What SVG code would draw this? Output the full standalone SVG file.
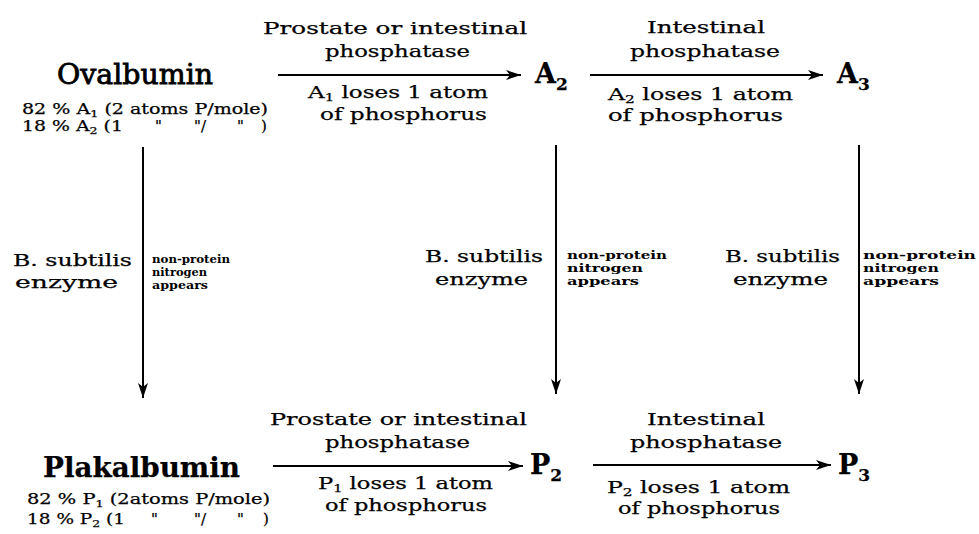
<svg xmlns="http://www.w3.org/2000/svg" width="979" height="534" viewBox="0 0 979 534">
<defs>
<marker id="ah" markerUnits="userSpaceOnUse" markerWidth="16" markerHeight="12" refX="15" refY="6" orient="auto">
<path d="M0,1 L15,6 L0,11 L4,6 z" fill="#000"/>
</marker>
<style>
text{font-family:"DejaVu Serif","Liberation Serif",serif;fill:#000;stroke:#000;stroke-width:0.25}
.big{font-size:27px;stroke-width:0.8}
.bigb{font-size:28px;font-weight:bold}
.node{font-size:27px;font-weight:bold}
.lab{font-size:17px}
.comp{font-size:15px}
.sm{font-size:11px;font-weight:bold;stroke-width:0}
.conn{stroke:#000;stroke-width:2;fill:none;marker-end:url(#ah)}
</style>
</defs>
<rect width="979" height="534" fill="#fff"/>
<g id="connectors">
<line class="conn" x1="278" y1="75" x2="521" y2="75"/>
<line class="conn" x1="590" y1="75" x2="823" y2="75"/>
<line class="conn" x1="273" y1="466" x2="523" y2="466"/>
<line class="conn" x1="593" y1="465" x2="831" y2="465"/>
<line class="conn" x1="143" y1="147" x2="143" y2="398"/>
<line class="conn" x1="556" y1="145" x2="556" y2="394"/>
<line class="conn" x1="859" y1="145" x2="859" y2="394"/>
</g>
<g id="ovalbumin">
<text class="big" x="57" y="84" textLength="156" lengthAdjust="spacingAndGlyphs">Ovalbumin</text>
<text class="comp" x="22" y="114" textLength="246" lengthAdjust="spacingAndGlyphs">82 % A<tspan font-size="10" dy="3">1</tspan><tspan dy="-3"> (2 atoms P/mole)</tspan></text>
<text class="comp" x="22" y="131" textLength="101" lengthAdjust="spacingAndGlyphs">18 % A<tspan font-size="10" dy="3">2</tspan><tspan dy="-3"> (1</tspan></text>
<text class="comp" x="155" y="131">"</text>
<text class="comp" x="194" y="131">"/</text>
<text class="comp" x="237" y="131">"</text>
<text class="comp" x="261" y="131">)</text>
</g>
<g id="A2">
<text class="node" x="535" y="83">A<tspan font-size="17" dy="7">2</tspan></text>
</g>
<g id="A3">
<text class="node" x="837" y="83">A<tspan font-size="17" dy="7">3</tspan></text>
</g>
<g id="plakalbumin">
<text class="bigb" x="43" y="477" textLength="197" lengthAdjust="spacingAndGlyphs">Plakalbumin</text>
<text class="comp" x="27" y="504" textLength="243" lengthAdjust="spacingAndGlyphs">82 % P<tspan font-size="10" dy="3">1</tspan><tspan dy="-3"> (2atoms P/mole)</tspan></text>
<text class="comp" x="27" y="524" textLength="98" lengthAdjust="spacingAndGlyphs">18 % P<tspan font-size="10" dy="3">2</tspan><tspan dy="-3"> (1</tspan></text>
<text class="comp" x="151" y="524">"</text>
<text class="comp" x="194" y="524">"/</text>
<text class="comp" x="237" y="524">"</text>
<text class="comp" x="263" y="524">)</text>
</g>
<g id="P2">
<text class="node" x="530" y="474">P<tspan font-size="17" dy="7">2</tspan></text>
</g>
<g id="P3">
<text class="node" x="838" y="474">P<tspan font-size="17" dy="7">3</tspan></text>
</g>
<g id="labels-top-1">
<text class="lab" x="263" y="34" textLength="264" lengthAdjust="spacingAndGlyphs">Prostate or intestinal</text>
<text class="lab" x="325" y="57" textLength="145" lengthAdjust="spacingAndGlyphs">phosphatase</text>
<text class="lab" x="308" y="98" textLength="180" lengthAdjust="spacingAndGlyphs">A<tspan font-size="11" dy="3">1</tspan><tspan dy="-3"> loses 1 atom</tspan></text>
<text class="lab" x="320" y="120" textLength="167" lengthAdjust="spacingAndGlyphs">of phosphorus</text>
</g>
<g id="labels-top-2">
<text class="lab" x="647" y="33" textLength="118" lengthAdjust="spacingAndGlyphs">Intestinal</text>
<text class="lab" x="630" y="57" textLength="150" lengthAdjust="spacingAndGlyphs">phosphatase</text>
<text class="lab" x="608" y="100" textLength="185" lengthAdjust="spacingAndGlyphs">A<tspan font-size="11" dy="3">2</tspan><tspan dy="-3"> loses 1 atom</tspan></text>
<text class="lab" x="608" y="121" textLength="175" lengthAdjust="spacingAndGlyphs">of phosphorus</text>
</g>
<g id="labels-bottom-1">
<text class="lab" x="270" y="425" textLength="257" lengthAdjust="spacingAndGlyphs">Prostate or intestinal</text>
<text class="lab" x="325" y="448" textLength="145" lengthAdjust="spacingAndGlyphs">phosphatase</text>
<text class="lab" x="318" y="489" textLength="175" lengthAdjust="spacingAndGlyphs">P<tspan font-size="11" dy="3">1</tspan><tspan dy="-3"> loses 1 atom</tspan></text>
<text class="lab" x="325" y="511" textLength="162" lengthAdjust="spacingAndGlyphs">of phosphorus</text>
</g>
<g id="labels-bottom-2">
<text class="lab" x="647" y="425" textLength="118" lengthAdjust="spacingAndGlyphs">Intestinal</text>
<text class="lab" x="630" y="448" textLength="152" lengthAdjust="spacingAndGlyphs">phosphatase</text>
<text class="lab" x="607" y="493" textLength="183" lengthAdjust="spacingAndGlyphs">P<tspan font-size="11" dy="3">2</tspan><tspan dy="-3"> loses 1 atom</tspan></text>
<text class="lab" x="618" y="514" textLength="162" lengthAdjust="spacingAndGlyphs">of phosphorus</text>
</g>
<g id="labels-left">
<text class="lab" x="13" y="266" textLength="119" lengthAdjust="spacingAndGlyphs">B. subtilis</text>
<text class="lab" x="15" y="288" textLength="103" lengthAdjust="spacingAndGlyphs">enzyme</text>
<text class="sm" x="152" y="263" textLength="78" lengthAdjust="spacingAndGlyphs">non-protein</text>
<text class="sm" x="152" y="276" textLength="55" lengthAdjust="spacingAndGlyphs">nitrogen</text>
<text class="sm" x="152" y="289" textLength="56" lengthAdjust="spacingAndGlyphs">appears</text>
</g>
<g id="labels-middle">
<text class="lab" x="425" y="262" textLength="118" lengthAdjust="spacingAndGlyphs">B. subtilis</text>
<text class="lab" x="435" y="285" textLength="93" lengthAdjust="spacingAndGlyphs">enzyme</text>
<text class="sm" x="567" y="259" textLength="100" lengthAdjust="spacingAndGlyphs">non-protein</text>
<text class="sm" x="567" y="272" textLength="76" lengthAdjust="spacingAndGlyphs">nitrogen</text>
<text class="sm" x="567" y="285" textLength="72" lengthAdjust="spacingAndGlyphs">appears</text>
</g>
<g id="labels-right">
<text class="lab" x="725" y="262" textLength="115" lengthAdjust="spacingAndGlyphs">B. subtilis</text>
<text class="lab" x="733" y="285" textLength="95" lengthAdjust="spacingAndGlyphs">enzyme</text>
<text class="sm" x="863" y="259" textLength="113" lengthAdjust="spacingAndGlyphs">non-protein</text>
<text class="sm" x="863" y="272" textLength="76" lengthAdjust="spacingAndGlyphs">nitrogen</text>
<text class="sm" x="863" y="285" textLength="76" lengthAdjust="spacingAndGlyphs">appears</text>
</g>
</svg>
